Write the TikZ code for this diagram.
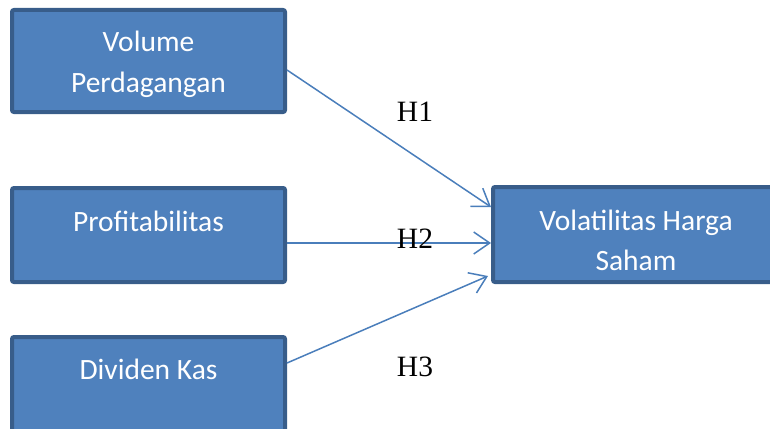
\documentclass[tikz,border=0pt]{standalone}
\usepackage{fontspec}
\usepackage{tikz}
\usetikzlibrary{arrows.meta, positioning, calc}
\setmainfont{Liberation Serif}
\newfontfamily\boxfont{Carlito}
\definecolor{colBoxFill}{HTML}{4F81BD}
\definecolor{colBoxLine}{HTML}{385D8A}
\definecolor{colArrow}  {HTML}{4A7EBB}
\tikzset{
  block/.style={
    draw=colBoxLine, fill=colBoxFill, line width=4pt,
    rounded corners=2pt, inner sep=0pt
  },
  blocktxt/.style={
    text=white, align=center, inner sep=0pt, anchor=base,
    font=\boxfont\fontsize{29.5}{40}\selectfont
  },
  hyplabel/.style={
    inner sep=0pt, anchor=base,
    font=\fontsize{29.5}{36}\selectfont
  },
  mainarr/.style={
    -{Straight Barb[length=16pt,width=22pt,line width=1.5pt]},
    line width=1.5pt, draw=colArrow
  }
}

\begin{document}
\begin{tikzpicture}[x=1pt, y=-1pt]
  \clip (0,0) rectangle (770,428);

  %% -- Independent variables (left column) --
  \node[block, minimum width=273pt, minimum height=102pt] (vol)  at (148.5,61)  {};
  \node[block, minimum width=273pt, minimum height=94pt]  (prof) at (148.5,235) {};
  \node[block, minimum width=273pt, minimum height=98pt]  (div)  at (148.5,386) {};

  %% -- Dependent variable (right) --
  \node[block, minimum width=286pt, minimum height=95pt]  (vhs)  at (636,234.5) {};

  %% -- Box texts (base = last line) --
  \node[blocktxt] (volTxt)  at (148.5,92)  {Volume\\Perdagangan};
  \node[blocktxt] (profTxt) at (148.5,231) {Profitabilitas};
  \node[blocktxt] (divTxt)  at (148.5,379) {Dividen Kas};
  \node[blocktxt] (vhsTxt)  at (636,270)   {Volatilitas Harga\\Saham};

  %% -- Hypothesis arrows --
  \draw[mainarr] ([yshift=-9pt]vol.east)  -- ([yshift=27.5pt]vhs.west);
  \draw[mainarr] ([yshift=-8pt]prof.east) -- ([yshift=-8.5pt]vhs.west);
  \draw[mainarr] ([yshift=23pt]div.east)  -- ([xshift=-3pt,yshift=-41.5pt]vhs.west);

  %% -- Hypothesis labels --
  \node[hyplabel] (h1) at (415,121) {H1};
  \node[hyplabel] (h2) at (415,248) {H2};
  \node[hyplabel] (h3) at (415,376) {H3};
\end{tikzpicture}
\end{document}
